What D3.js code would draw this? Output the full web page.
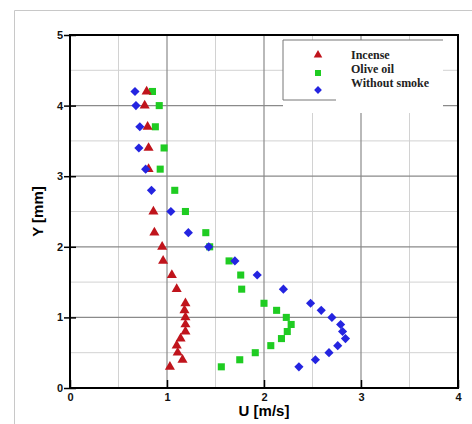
<!DOCTYPE html>
<html>
<head>
<meta charset="utf-8">
<script src="https://cdn.jsdelivr.net/npm/d3@7"></script>
<style>
  body { margin: 0; background: #fff; }
  svg { display: block; }
</style>
</head>
<body>
<div id="chart"></div>
<script>
// heights (Y, mm) and velocities (U, m/s) of the three profiles
const yIncense = [4.2, 4.0, 3.7, 3.4, 3.1, 2.5, 2.2, 2.0, 1.8, 1.6, 1.4, 1.2, 1.1, 1.0, 0.9, 0.8, 0.7, 0.6, 0.5, 0.4, 0.3];
const uIncense = [0.79, 0.77, 0.80, 0.81, 0.81, 0.86, 0.87, 0.95, 0.96, 1.05, 1.10, 1.19, 1.18, 1.19, 1.19, 1.19, 1.14, 1.10, 1.11, 1.16, 1.03];

const yOlive = [4.2, 4.0, 3.7, 3.4, 3.1, 2.8, 2.5, 2.2, 2.0, 1.8, 1.6, 1.4, 1.2, 1.1, 1.0, 0.9, 0.8, 0.7, 0.6, 0.5, 0.4, 0.3];
const uOlive = [0.85, 0.92, 0.88, 0.97, 0.93, 1.08, 1.19, 1.40, 1.44, 1.64, 1.76, 1.77, 2.00, 2.13, 2.23, 2.28, 2.24, 2.18, 2.07, 1.91, 1.75, 1.56];

const yNoSmoke = [4.2, 4.0, 3.7, 3.4, 3.1, 2.8, 2.5, 2.2, 2.0, 1.8, 1.6, 1.4, 1.2, 1.1, 1.0, 0.9, 0.8, 0.7, 0.6, 0.5, 0.4, 0.3];
const uNoSmoke = [0.67, 0.68, 0.72, 0.71, 0.78, 0.84, 1.04, 1.22, 1.43, 1.70, 1.93, 2.20, 2.48, 2.59, 2.70, 2.79, 2.81, 2.84, 2.76, 2.67, 2.53, 2.36];

const seriesNames = ["Incense", "Olive oil", "Without smoke"];
const xTicks = [0, 1, 2, 3, 4];
const yTicks = [0, 1, 2, 3, 4, 5];

const width = 472, height = 424;
const margin = { top: 35, right: 14, bottom: 36, left: 70 };
const w = 458 - margin.left;
const h = 388 - margin.top;

const svg = d3.select("#chart").append("svg")
    .attr("width", width)
    .attr("height", height);

// outer picture frame
svg.append("path")
    .attr("d", `M14.5,${height} L14.5,10.5 L${width},10.5`)
    .attr("fill", "none")
    .attr("stroke", "#c8c8c8")
    .attr("stroke-width", 1);

const g = svg.append("g").attr("transform", `translate(${margin.left},${margin.top})`);

const x = d3.scaleLinear().domain([0, 4]).range([0, w]);
const y = d3.scaleLinear().domain([0, 5]).range([h, 0]);

// minor grid
g.append("g").selectAll("line")
    .data(d3.range(0.5, 4, 1))
    .join("line")
    .attr("x1", d => x(d)).attr("x2", d => x(d))
    .attr("y1", 0).attr("y2", h)
    .attr("stroke", "#d2d2d2");
g.append("g").selectAll("line")
    .data(d3.range(0.5, 5, 1))
    .join("line")
    .attr("y1", d => y(d)).attr("y2", d => y(d))
    .attr("x1", 0).attr("x2", w)
    .attr("stroke", "#d2d2d2");

// major grid
g.append("g").selectAll("line")
    .data(xTicks.slice(1, -1))
    .join("line")
    .attr("x1", d => x(d)).attr("x2", d => x(d))
    .attr("y1", 0).attr("y2", h)
    .attr("stroke", "#8a8a8a").attr("stroke-width", 1.2);
g.append("g").selectAll("line")
    .data(yTicks.slice(1, -1))
    .join("line")
    .attr("y1", d => y(d)).attr("y2", d => y(d))
    .attr("x1", 0).attr("x2", w)
    .attr("stroke", "#8a8a8a").attr("stroke-width", 1.2);

// white legend area hides the grid behind it
g.append("rect")
    .attr("x", 283 - margin.left).attr("y", 40 - margin.top)
    .attr("width", 160).attr("height", 73)
    .attr("fill", "#fff");
g.append("path")
    .attr("d", `M${336 - margin.left},${100 - margin.top} L${283 - margin.left},${100 - margin.top} L${283 - margin.left},${40 - margin.top} L${443 - margin.left},${40 - margin.top}`)
    .attr("fill", "none")
    .attr("stroke", "#777")
    .attr("stroke-width", 1);

// axes
const xAxis = g.append("g")
    .attr("transform", `translate(0,${h})`)
    .call(d3.axisBottom(x).tickValues(xTicks).tickFormat(d3.format("d")).tickSize(0).tickPadding(5));
xAxis.selectAll(".tick").append("line")
    .attr("y1", -8).attr("y2", 0)
    .attr("stroke", "#000").attr("stroke-width", 1.5);

const yAxis = g.append("g")
    .call(d3.axisLeft(y).tickValues(yTicks).tickFormat(d3.format("d")).tickSize(0).tickPadding(7));
yAxis.selectAll(".tick").append("line")
    .attr("x1", -6).attr("x2", 6)
    .attr("stroke", "#000").attr("stroke-width", 1.5);

g.selectAll(".domain").remove();
g.selectAll(".tick text")
    .attr("font-family", "Liberation Sans, Arial, sans-serif")
    .attr("font-weight", "bold")
    .attr("font-size", 11)
    .attr("fill", "#111");

// frame
g.append("rect")
    .attr("width", w).attr("height", h)
    .attr("fill", "none")
    .attr("stroke", "#000")
    .attr("stroke-width", 2);

// axis titles
svg.append("text")
    .attr("x", margin.left + w / 2).attr("y", 416)
    .attr("text-anchor", "middle")
    .attr("font-family", "Liberation Sans, Arial, sans-serif")
    .attr("font-weight", "bold")
    .attr("font-size", 15)
    .text("U [m/s]");
svg.append("text")
    .attr("transform", `translate(43,${margin.top + h / 2}) rotate(-90)`)
    .attr("text-anchor", "middle")
    .attr("font-family", "Liberation Sans, Arial, sans-serif")
    .attr("font-weight", "bold")
    .attr("font-size", 15)
    .text("Y [mm]");

const colors = ["#c0141c", "#1fcc22", "#2424e0"];
// square rotated 45deg gives an even diamond
const markers = [
    { sym: d3.symbol().type(d3.symbolTriangle).size(44), rot: 0 },
    { sym: d3.symbol().type(d3.symbolSquare).size(50), rot: 0 },
    { sym: d3.symbol().type(d3.symbolSquare).size(42), rot: 45 }
];

const series = [
    { name: seriesNames[0], pts: uIncense.map((u, i) => [u, yIncense[i]]) },
    { name: seriesNames[1], pts: uOlive.map((u, i) => [u, yOlive[i]]) },
    { name: seriesNames[2], pts: uNoSmoke.map((u, i) => [u, yNoSmoke[i]]) }
];

// draw order: olive oil, incense, without smoke
[1, 0, 2].forEach(k => {
    const s = series[k];
    g.append("g").selectAll("path")
        .data(s.pts)
        .join("path")
        .attr("transform", d => `translate(${x(d[0])},${y(d[1])}) rotate(${markers[k].rot})`)
        .attr("d", markers[k].sym())
        .attr("fill", colors[k]);
});

// legend
const legY = [55, 73, 90];
const txtY = [59, 73, 87];
series.forEach((s, i) => {
    svg.append("path")
        .attr("transform", `translate(318,${legY[i]}) rotate(${markers[i].rot}) scale(0.85)`)
        .attr("d", markers[i].sym())
        .attr("fill", colors[i]);
    svg.append("text")
        .attr("x", 351).attr("y", txtY[i])
        .attr("font-family", "Liberation Serif, Times New Roman, serif")
        .attr("font-weight", "bold")
        .attr("font-size", 12)
        .attr("fill", "#222")
        .text(s.name);
});
</script>
</body>
</html>
